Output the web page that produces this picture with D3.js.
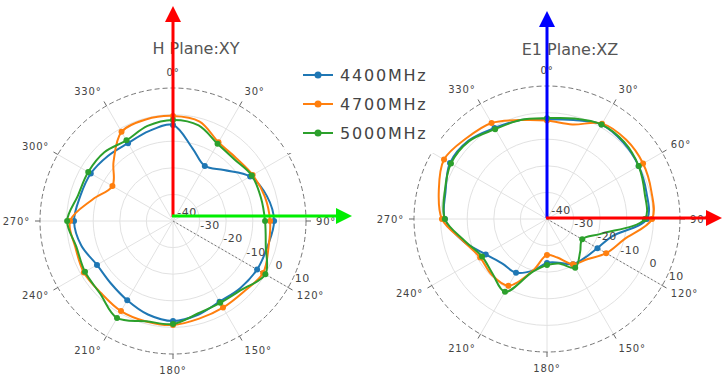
<!DOCTYPE html>
<html><head><meta charset="utf-8">
<script src="https://cdn.jsdelivr.net/npm/d3@7"></script>
<style>body{margin:0;background:#fff}</style>
</head><body><svg id="c" width="722" height="376"></svg>
<script>
// ---------- data ----------
const angles = [0,15,30,45,60,75,90,105,120,135,150,165,180,195,210,225,240,255,270,285,300,315,330,345];
const seriesNames = ["4400MHz","4700MHz","5000MHz"];
const seriesColors = ["#1f77b4","#ff7f0e","#2ca02c"];
const radialTicks = [-40,-30,-20,-10,0,10];
const angularTicks = [0,30,60,90,120,150,180,210,240,270,300,330];
const angularLabels = ["0°","30°","60°","90°","120°","150°","180°","210°","240°","270°","300°","330°"];
const markerAngles = [0,30,60,90,120,150,180,210,240,270,300,330];

// H Plane: XY
const h4400 = [-3.9,-11.7,-16.1,-12.9,-6.5,-3.5,-2.0,-3.2,-3.5,-4.3,-5.0,-3.5,-2.4,-3.6,-5.6,-6.9,-7.0,-4.3,-2.8,-3.9,-4.3,-5.4,-6.2,-5.0];
const h4700 = [-0.5,-1.3,-5.8,-6.5,-5.4,-4.3,-3.5,-2.8,-0.9,-2.4,-2.4,-2.0,-0.9,-0.9,-0.9,-1.7,-1.3,-2.0,-1.3,-8.7,-13.7,-8.4,-1.3,-0.5];
const h5000 = [-2.0,-2.8,-6.5,-7.3,-5.8,-5.8,-5.4,-3.9,0.1,-3.5,-4.5,-4.0,-1.3,-1.0,2.1,-1.3,-1.8,-2.4,-0.2,-3.0,-3.2,-3.5,-5.0,-3.0];

// E1 Plane: XZ
const e4400 = [-2.5,-1.5,1.0,0.6,-0.2,-1.3,-2.4,-14.7,-18.1,-19.6,-20.4,-23.0,-23.5,-20.0,-16.7,-16.3,-13.4,-7.5,-1.6,-0.5,2.1,1.7,-0.5,-1.5];
const e4700 = [-3.0,-3.2,1.4,2.1,1.7,0.6,-0.5,-10.1,-14.3,-18.6,-20.4,-25.0,-26.5,-20.0,-11.0,-10.5,-11.0,-7.5,-0.5,2.1,4.7,2.9,1.7,-1.5];
const e5000 = [-2.1,-0.9,1.0,1.0,-0.2,-2.0,-3.2,-18.8,-24.7,-22.4,-18.8,-22.7,-22.7,-19.5,-8.4,-11.0,-11.8,-8.0,-1.6,-0.2,1.7,1.4,-1.0,-1.5];

const titles = ["H Plane:XY","E1 Plane:XZ"];

// ---------- drawing ----------
const svg = d3.select("#c");
const R = 133;
const rScale = d3.scaleLinear().domain([radialTicks[0], radialTicks[radialTicks.length-1]]).range([0, R]);
const rad = d => d*Math.PI/180;
const FONT = "DejaVu Sans, Verdana, sans-serif";

function drawPolar(cx, cy, title, tx, ty, series, hiddenLabels) {
  const g = svg.append("g").attr("transform", `translate(${cx},${cy})`);
  radialTicks.slice(1, -1).forEach(t => {
    g.append("circle").attr("r", rScale(t)).attr("fill","none").attr("stroke","#e2e2e2").attr("stroke-width",1);
  });
  angularTicks.forEach(a => {
    g.append("line").attr("x1",0).attr("y1",0)
      .attr("x2", R*Math.sin(rad(a))).attr("y2", -R*Math.cos(rad(a)))
      .attr("stroke","#e2e2e2").attr("stroke-width",1);
  });
  g.append("circle").attr("r", R).attr("fill","none").attr("stroke","#777").attr("stroke-width",1).attr("stroke-dasharray","5,3");
  angularTicks.forEach(a => {
    const s = Math.sin(rad(a)), c = Math.cos(rad(a));
    g.append("line").attr("x1",R*s).attr("y1",-R*c).attr("x2",(R+5)*s).attr("y2",-(R+5)*c)
      .attr("stroke","#666").attr("stroke-width",1);
  });
  angularTicks.forEach((a,i) => {
    if (hiddenLabels.includes(a)) return; // covered by the legend box in the reference
    const s = Math.sin(rad(a)), c = Math.cos(rad(a));
    const lr = R + 10;
    g.append("text").attr("x", lr*s).attr("y", -lr*c)
      .attr("dy", (0.35 - 0.6*c).toFixed(2) + "em")
      .attr("text-anchor", s > 0.2 ? "start" : (s < -0.2 ? "end" : "middle"))
      .attr("font-family", FONT).attr("font-size", 10).attr("letter-spacing", "0.8px")
      .attr("fill", "#444").text(angularLabels[i]);
  });
  const ra = rad(120), rs = Math.sin(ra), rc = Math.cos(ra);
  g.append("line").attr("x1",0).attr("y1",0).attr("x2",R*rs).attr("y2",-R*rc)
    .attr("stroke","#777").attr("stroke-width",1).attr("stroke-dasharray","2,2");
  series.forEach((vals, si) => {
    const pts = angles.map((a,i) => ({a, v: vals[i]}));
    const line = d3.lineRadial().angle(d => rad(d.a)).radius(d => rScale(d.v))
      .curve(d3.curveCatmullRomClosed.alpha(0.5));
    g.append("path").attr("d", line(pts)).attr("fill","none")
      .attr("stroke", seriesColors[si]).attr("stroke-width", 2).attr("stroke-linejoin","round");
    pts.filter(d => markerAngles.includes(d.a)).forEach(d => {
      g.append("circle")
        .attr("cx", rScale(d.v)*Math.sin(rad(d.a))).attr("cy", -rScale(d.v)*Math.cos(rad(d.a)))
        .attr("r", 3).attr("fill", seriesColors[si]);
    });
  });
  radialTicks.forEach(t => {
    const rr = rScale(t);
    g.append("text").attr("x", rr*rs + 14).attr("y", -rr*rc - 9).attr("dy","0.35em")
      .attr("text-anchor","middle").attr("font-family", FONT).attr("font-size", 11)
      .attr("letter-spacing","0.5px").attr("fill","#444").text(t);
  });
  svg.append("text").attr("x", tx).attr("y", ty).attr("text-anchor","middle")
    .attr("font-family", FONT).attr("font-size", 16).attr("fill","#555").text(title);
}

drawPolar(173, 221, titles[0], 196, 54, [h4400, h4700, h5000], [60]);
drawPolar(547, 219, titles[1], 570, 55, [e4400, e4700, e5000], [300]);

// legend
const lg = svg.append("g");
lg.append("rect").attr("x",285).attr("y",58).attr("width",156).attr("height",95).attr("fill","#fff");
seriesNames.forEach((n,i) => {
  const y = 75 + i*29;
  lg.append("line").attr("x1",303).attr("x2",333).attr("y1",y).attr("y2",y)
    .attr("stroke",seriesColors[i]).attr("stroke-width",2);
  lg.append("circle").attr("cx",318).attr("cy",y).attr("r",3.5).attr("fill",seriesColors[i]);
  lg.append("text").attr("x",340).attr("y",y).attr("dy","0.36em")
    .attr("font-family",FONT).attr("font-size",16).attr("letter-spacing","1.8px")
    .attr("fill","#444").text(n);
});

// axis arrows
function arrow(x1,y1,x2,y2,color){
  const dx = x2-x1, dy = y2-y1, L = Math.hypot(dx,dy), ux = dx/L, uy = dy/L;
  const hl = 16, hw = 8;
  const bx = x2 - ux*hl, by = y2 - uy*hl;
  svg.append("line").attr("x1",x1).attr("y1",y1).attr("x2",bx).attr("y2",by)
    .attr("stroke",color).attr("stroke-width",3);
  svg.append("path").attr("d",`M${x2},${y2}L${bx - uy*hw},${by + ux*hw}L${bx + uy*hw},${by - ux*hw}Z`).attr("fill",color);
}
arrow(173,217,173,6,"#ff0000");
arrow(172,216,352,216,"#00ee00");
arrow(547,218,547,11,"#0000ff");
arrow(546,218,722,218,"#ff0000");
</script></body></html>
